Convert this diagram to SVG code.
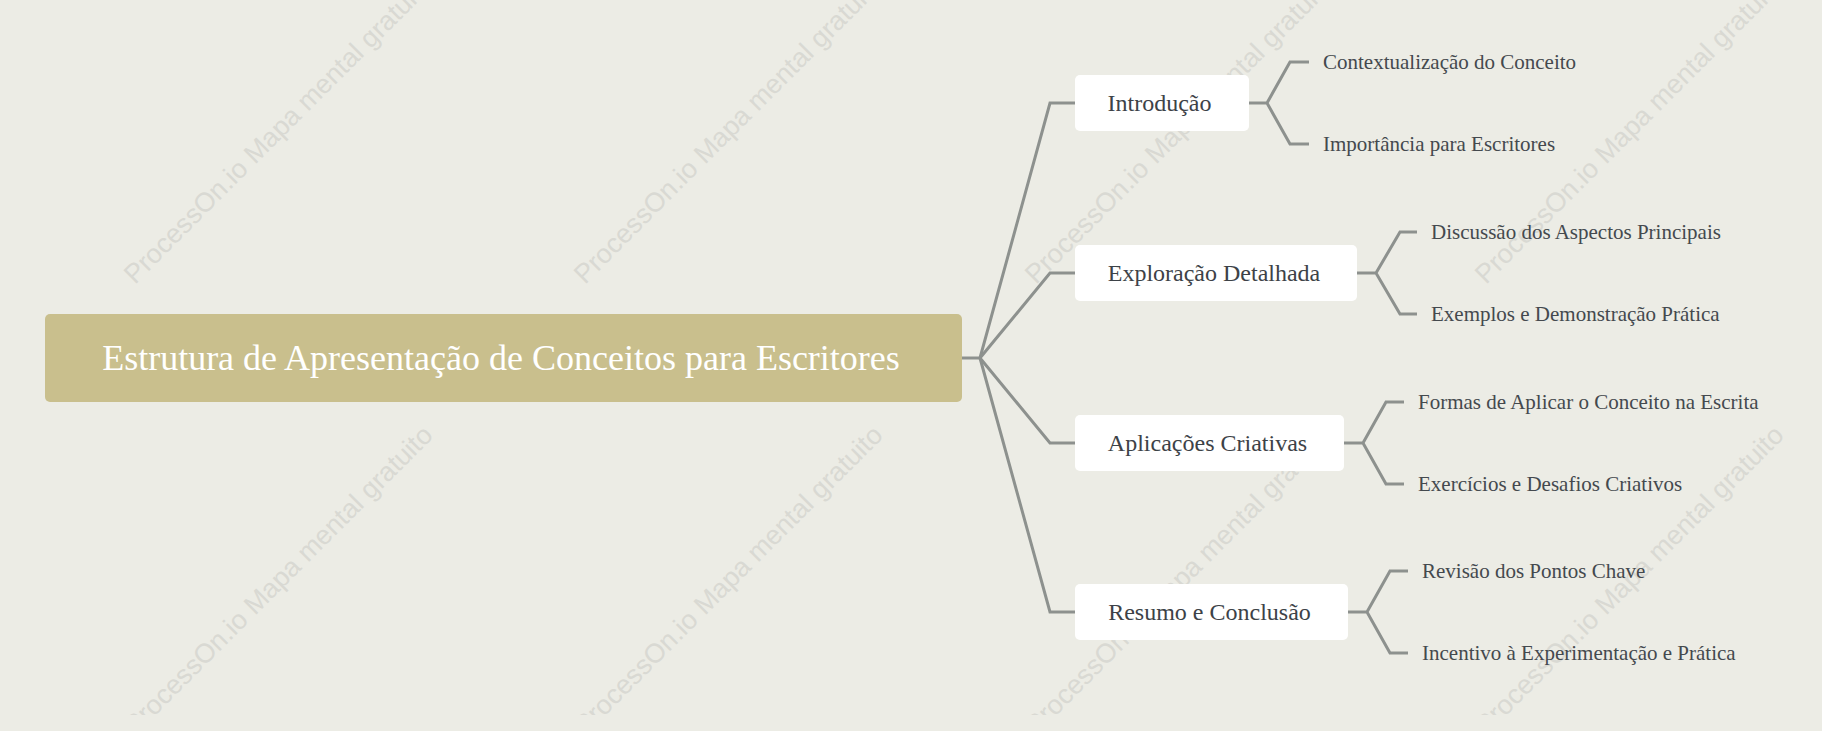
<svg xmlns="http://www.w3.org/2000/svg" width="1822" height="731" viewBox="0 0 1822 731">
<style>
.wm{font-family:"Liberation Sans",Arial,sans-serif;font-size:27px;fill:#d9d9d3}
.root{fill:#c9bf8d}
.roott{font-family:"Liberation Serif","Times New Roman",serif;font-size:36px;fill:#ffffff;text-anchor:middle}
.box{fill:#ffffff}
.nt{font-family:"Liberation Serif","Times New Roman",serif;font-size:24px;fill:#3d4247;text-anchor:middle}
.ct{font-family:"Liberation Serif","Times New Roman",serif;font-size:21px;fill:#44494e}
.ln{fill:none;stroke:#8d918e;stroke-width:3;stroke-linejoin:miter}
</style>
<defs><clipPath id="wmclip"><rect x="0" y="0" width="1822" height="715"/></clipPath></defs>
<rect width="1822" height="731" fill="#ecece5"/>
<g id="watermarks" clip-path="url(#wmclip)">
<text class="wm" transform="translate(135,285) rotate(-45)">ProcessOn.io Mapa mental gratuito</text>
<text class="wm" transform="translate(585,285) rotate(-45)">ProcessOn.io Mapa mental gratuito</text>
<text class="wm" transform="translate(1036,285) rotate(-45)">ProcessOn.io Mapa mental gratuito</text>
<text class="wm" transform="translate(1486,285) rotate(-45)">ProcessOn.io Mapa mental gratuito</text>
<text class="wm" transform="translate(135,736) rotate(-45)">ProcessOn.io Mapa mental gratuito</text>
<text class="wm" transform="translate(585,736) rotate(-45)">ProcessOn.io Mapa mental gratuito</text>
<text class="wm" transform="translate(1036,736) rotate(-45)">ProcessOn.io Mapa mental gratuito</text>
<text class="wm" transform="translate(1486,736) rotate(-45)">ProcessOn.io Mapa mental gratuito</text>
</g>
<g id="connectors">
<path class="ln" d="M962,358 H980 L1050,103 H1075"/>
<path class="ln" d="M980,358 L1050,273 H1075"/>
<path class="ln" d="M980,358 L1050,443 H1075"/>
<path class="ln" d="M980,358 L1050,612 H1075"/>
<path class="ln" d="M1249,103 H1267 L1290,62 H1309 M1267,103 L1290,144 H1309"/>
<path class="ln" d="M1357,273 H1376 L1400,232 H1417 M1376,273 L1400,314 H1417"/>
<path class="ln" d="M1344,443 H1363 L1386,402 H1404 M1363,443 L1386,484 H1404"/>
<path class="ln" d="M1348,612 H1367 L1390,571 H1408 M1367,612 L1390,653 H1408"/>
</g>
<g id="root">
<rect class="root" x="45" y="314" width="917" height="88" rx="5"/>
<text class="roott" x="501" y="370">Estrutura de Apresentação de Conceitos para Escritores</text>
</g>
<g id="n1">
<rect class="box" x="1075" y="75" width="174" height="56" rx="5"/>
<text class="nt" x="1159.5" y="111">Introdução</text>
</g>
<g id="n2">
<rect class="box" x="1075" y="245" width="282" height="56" rx="5"/>
<text class="nt" x="1214" y="281">Exploração Detalhada</text>
</g>
<g id="n3">
<rect class="box" x="1075" y="415" width="269" height="56" rx="5"/>
<text class="nt" x="1207.5" y="451">Aplicações Criativas</text>
</g>
<g id="n4">
<rect class="box" x="1075" y="584" width="273" height="56" rx="5"/>
<text class="nt" x="1209.5" y="620">Resumo e Conclusão</text>
</g>
<g id="n1a"><text class="ct" x="1323" y="69">Contextualização do Conceito</text></g>
<g id="n1b"><text class="ct" x="1323" y="151">Importância para Escritores</text></g>
<g id="n2a"><text class="ct" x="1431" y="239">Discussão dos Aspectos Principais</text></g>
<g id="n2b"><text class="ct" x="1431" y="321">Exemplos e Demonstração Prática</text></g>
<g id="n3a"><text class="ct" x="1418" y="409">Formas de Aplicar o Conceito na Escrita</text></g>
<g id="n3b"><text class="ct" x="1418" y="491">Exercícios e Desafios Criativos</text></g>
<g id="n4a"><text class="ct" x="1422" y="578">Revisão dos Pontos Chave</text></g>
<g id="n4b"><text class="ct" x="1422" y="660">Incentivo à Experimentação e Prática</text></g>
</svg>
